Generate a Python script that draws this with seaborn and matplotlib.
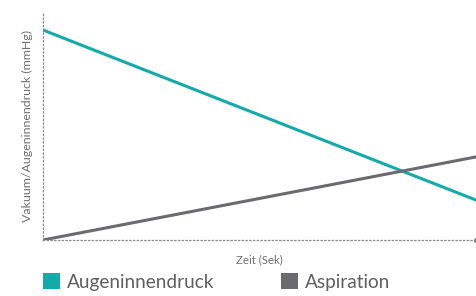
import matplotlib
matplotlib.use("Agg")
import matplotlib.pyplot as plt
import seaborn as sns
import pandas as pd
from matplotlib.patches import Patch

series = ["Augeninnendruck", "Aspiration"]
times = [0, 10]
augen = [92.5, 17.6]
aspiration = [0.0, 36.6]
colors = ["#12ABAA", "#6B6A70"]

df = pd.DataFrame({
    "Zeit": times * 2,
    "Wert": augen + aspiration,
    "Serie": [series[0]] * 2 + [series[1]] * 2,
})

sns.set_style("white")
plt.rcParams["font.family"] = ["Lato", "DejaVu Sans"]

fig = plt.figure(figsize=(4.77, 2.96), dpi=100)
ax = fig.add_axes([43/477, 1-240/296, (476-43)/477, (240-13)/296])

sns.lineplot(data=df, x="Zeit", y="Wert", hue="Serie", palette=colors,
             linewidth=2.2, legend=False, ax=ax)

ax.set_xlim(0, 10)
ax.set_ylim(0, 100)
ax.set_xticks([])
ax.set_yticks([])
for s in ["top", "right"]:
    ax.spines[s].set_visible(False)
for s in ["left", "bottom"]:
    ax.spines[s].set_linestyle((0, (1, 2)))
    ax.spines[s].set_color("#8a8a8a")
    ax.spines[s].set_linewidth(0.9)
ax.plot([0], [100], marker="o", ms=2.5, color="#6B6A70", clip_on=False, transform=ax.transAxes)
ax.plot([1], [0], marker="o", ms=2.5, color="#6B6A70", clip_on=False, transform=ax.transAxes)

ax.set_ylabel("Vakuum/Augeninnendruck (mmHg)", fontsize=8.9, color="#707070", labelpad=7)
ax.set_xlabel("Zeit (Sek)", fontsize=8.2, color="#707070", labelpad=10)

handles = [Patch(facecolor=c, edgecolor="none") for c in colors]
fig.legend(handles, series, loc="lower left", bbox_to_anchor=(0.054, -0.04),
           ncol=2, frameon=False, handlelength=0.9, handleheight=0.9,
           handletextpad=0.36, columnspacing=3.5, labelcolor="#5f5f5f",
           prop={"family": ["Lato", "DejaVu Sans"], "size": 13.7})

fig.savefig("out.png", dpi=100)
